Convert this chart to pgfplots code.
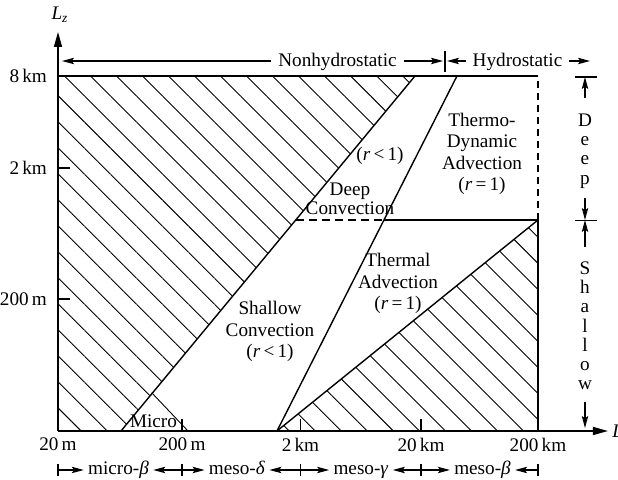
\documentclass[border=0pt]{standalone}
\usepackage{fontspec}
\setmainfont{Liberation Serif}
\usepackage{pgfplots}
\pgfplotsset{compat=1.18}
\usetikzlibrary{arrows.meta,patterns.meta}
\begin{document}
\begin{tikzpicture}[
  font=\fontsize{9.6pt}{11.5pt}\selectfont,
  ar/.style={-{Stealth[length=6pt,width=3.2pt,inset=1.2pt]}, line width=0.55pt},
  lbl/.style={align=center, font=\fontsize{9.6pt}{10.7pt}\selectfont, inner sep=0pt},
  let/.style={anchor=base, inner sep=0pt},
  hat/.style={draw=none, pattern={Lines[angle=-45,distance=9.2pt,line width=0.45pt]}, pattern color=black},
  bd/.style={line width=0.7pt, black},
]
\begin{axis}[
  x=0.5pt, y=0.5pt,
  xmin=0, xmax=550, ymin=0, ymax=399,
  axis lines=left,
  axis line style={line width=0.75pt, -{Triangle[length=7.5pt,width=4pt]}},
  clip=false,
  xtick={0,124,242.5,363,480},
  xticklabels={20\,m,200\,m,2\,km,20\,km,200\,km},
  ytick={132,263,355},
  yticklabels={200\,m,2\,km,8\,km},
  tick align=inside,
  major tick length=6pt,
  tick style={line width=0.6pt, black},
  yticklabel style={xshift=-2pt},
]
% hatched regions
\addplot[hat] coordinates {(0,0) (63,0) (357,355) (0,355) (0,0)};
\addplot[hat] coordinates {(219,0) (480,211) (480,0) (219,0)};
% boundary lines
\addplot[bd] coordinates {(63,0) (357,355)};
\addplot[bd] coordinates {(219,0) (399,355)};
\addplot[bd] coordinates {(0,355) (480,355)};
\addplot[bd] coordinates {(219,0) (480,211)};
\addplot[bd] coordinates {(480,0) (480,211)};
\addplot[bd] coordinates {(326,211) (480,211)};
\addplot[bd, dash pattern=on 4pt off 2.5pt] coordinates {(238,211) (326,211)};
\addplot[bd, dash pattern=on 3.5pt off 2.5pt] coordinates {(480,211) (480,355)};
\addplot[line width=0.45pt, black] coordinates {(93.7,38.3) (130,0)};

% bounding box corners
\coordinate (bbBL) at (axis cs:-58,-49);
\coordinate (bbTR) at (axis cs:560,431);
\coordinate (top) at (axis cs:0,370);
\coordinate (bot) at (axis cs:0,-39);

% axis names
\node[anchor=center, inner sep=0pt] at (axis cs:2,416) {\textit{L}\textsubscript{\textit{z}}};
\node[anchor=west, inner sep=0pt] at (axis cs:554,0) {\textit{L}};

% top row
\node[let, inner xsep=3.5pt] (nh) at (axis cs:279.5,364) {Nonhydrostatic};
\draw[ar] (nh.west |- top) -- (axis cs:4,370);
\draw[ar] (nh.east |- top) -- (axis cs:385,370);
\draw[line width=0.6pt] (axis cs:387,359) -- (axis cs:387,380);
\node[let, inner xsep=3.2pt] (hy) at (axis cs:459.5,364) {Hydrostatic};
\draw[ar] (hy.west |- top) -- (axis cs:389,370);
\draw[ar] (hy.east |- top) -- (axis cs:532,370);

% right column
\draw[line width=0.6pt] (axis cs:517,354) -- (axis cs:539,354);
\draw[ar] (axis cs:527,333) -- (axis cs:527,354);
\node[let] at (axis cs:527,304.5) {D};
\node[let] at (axis cs:527,285.3) {e};
\node[let] at (axis cs:527,266.1) {e};
\node[let] at (axis cs:527,246.9) {p};
\draw[ar] (axis cs:527,233) -- (axis cs:527,211);
\draw[line width=0.6pt] (axis cs:517,210.5) -- (axis cs:539,210.5);
\draw[ar] (axis cs:527,184) -- (axis cs:527,211);
\node[let] at (axis cs:527,156.5) {S};
\node[let] at (axis cs:527,137.3) {h};
\node[let] at (axis cs:527,118.1) {a};
\node[let] at (axis cs:527,98.9) {l};
\node[let] at (axis cs:527,79.7) {l};
\node[let] at (axis cs:527,60.5) {o};
\node[let] at (axis cs:527,41.3) {w};
\draw[ar] (axis cs:527,29) -- (axis cs:527,3);

% bottom row
\draw[line width=0.6pt] (axis cs:0,-33) -- (axis cs:0,-45);
\draw[line width=0.6pt] (axis cs:124,-33) -- (axis cs:124,-45);
\draw[line width=0.6pt] (axis cs:242.5,-33) -- (axis cs:242.5,-45);
\draw[line width=0.6pt] (axis cs:363,-33) -- (axis cs:363,-45);
\draw[line width=0.6pt] (axis cs:480,-33) -- (axis cs:480,-45);
\node[let, inner xsep=2pt] (m1) at (axis cs:60.5,-44) {micro-\textit{β}};
\node[let, inner xsep=2pt] (m2) at (axis cs:179,-44) {meso-\textit{δ}};
\node[let, inner xsep=2pt] (m3) at (axis cs:303,-44) {meso-\textit{γ}};
\node[let, inner xsep=2pt] (m4) at (axis cs:424.5,-44) {meso-\textit{β}};
\draw[ar] (axis cs:0,-39) -- (m1.west |- bot);
\draw[ar] (axis cs:124,-39) -- (m1.east |- bot);
\draw[ar] (axis cs:124,-39) -- (m2.west |- bot);
\draw[ar] (axis cs:242.5,-39) -- (m2.east |- bot);
\draw[ar] (axis cs:242.5,-39) -- (m3.west |- bot);
\draw[ar] (axis cs:363,-39) -- (m3.east |- bot);
\draw[ar] (axis cs:363,-39) -- (m4.west |- bot);
\draw[ar] (axis cs:480,-39) -- (m4.east |- bot);

% interior labels
\node[lbl] at (axis cs:322,275) {(\textit{r}\,<\,1)};
\node[lbl, font=\fontsize{9.6pt}{9.6pt}\selectfont] at (axis cs:292,232) {Deep\\Convection};
\node[lbl] at (axis cs:424,277) {Thermo-\\Dynamic\\Advection\\(\textit{r}\,=\,1)};
\node[lbl] at (axis cs:340,147.5) {Thermal\\Advection\\(\textit{r}\,=\,1)};
\node[lbl] at (axis cs:212,99.5) {Shallow\\Convection\\(\textit{r}\,<\,1)};
\node[let] at (axis cs:95.5,3) {Micro};
\end{axis}
\pgfresetboundingbox
\useasboundingbox (bbBL) rectangle (bbTR);
\end{tikzpicture}
\end{document}
